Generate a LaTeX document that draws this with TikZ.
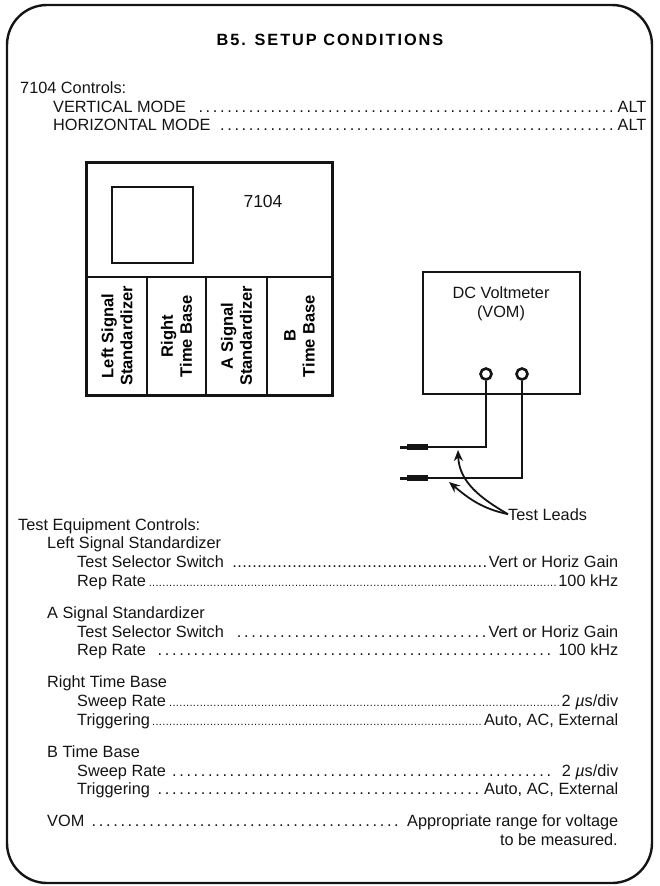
\documentclass[tikz,border=0pt]{standalone}
\usepackage{fontspec}
\setmainfont{Liberation Sans}
\newfontfamily\headfont{Liberation Sans}[LetterSpace=12]
\usepackage{xcolor}
\usepackage{tikz}
\usetikzlibrary{arrows.meta,calc,positioning}
\definecolor{inkCol}{HTML}{141414}
\newcommand{\rowfont}{\fontsize{16.3}{18.75}\selectfont}
\newcommand{\sparsedots}{\leaders\hbox to 7.2pt{\hss.\hss}\hfill}
\newcommand{\middots}{\leaders\hbox to 5pt{\hss.\hss}\hfill}
\newcommand{\densedots}{\leaders\hbox to 3.4pt{\hss{\fontsize{11}{11}\selectfont.}\hss}\hfill}
\newcommand{\usec}{{\itshape µ}s/div}
\tikzset{
  outerbox/.style={draw=inkCol, line width=2.4pt, rounded corners=40pt},
  unit/.style={draw=inkCol, line width=2.3pt, inner sep=0pt},
  plugin/.style={draw=inkCol, line width=1.4pt, inner sep=0pt, rotate=90, align=center,
                 minimum width=118pt, font=\bfseries\fontsize{16.5}{19}\selectfont},
  screen/.style={draw=inkCol, line width=1.7pt, inner sep=0pt},
  lbl/.style={font=\rowfont, inner sep=0pt, align=center, text=inkCol},
  row/.style={anchor=base west, inner sep=0pt, font=\rowfont, text=inkCol},
  title/.style={anchor=base, inner sep=0pt, font=\headfont\bfseries\fontsize{16.3}{19}\selectfont},
  jack/.style={circle, draw=inkCol, line width=2.6pt, minimum size=11pt, inner sep=0pt},
  plug/.style={fill=inkCol, minimum width=21pt, minimum height=5.5pt, inner sep=0pt},
  plugtip/.style={fill=inkCol, minimum width=7pt, minimum height=3pt, inner sep=0pt},
  wire/.style={draw=inkCol, line width=2pt},
  callout/.style={-{Stealth[length=11pt,width=9pt]}, line width=1.8pt, draw=inkCol},
}
% one control line: name, x, y, label, value (leader as option)
\newcommand{\setrow}[6][\sparsedots]{%
  \node[row] (#2) at (#3,#4) {\hbox to \dimexpr\rgt pt-#3pt\relax{#5#1#6}};}

\begin{document}
\begin{tikzpicture}[x=1pt, y=-1pt]
  \useasboundingbox (0,0) rectangle (659,886);
  \draw[outerbox] (7,5) rectangle (652,883);

  \node[title] (ttl) at (330,45) {B5. SETUP CONDITIONS};

  % mainframe settings
  \def\rgt{646}
  \node[row] (mfhead) at (20,93) {7104 Controls:};
  \setrow{vmode}{53}{112}{VERTICAL MODE }{ALT}
  \setrow{hmode}{53}{130}{HORIZONTAL MODE }{ALT}

  % 7104 mainframe with its four plug-ins
  \node[unit, minimum width=245pt, minimum height=232pt] (mf) at (209.5,279) {};
  \node[screen, minimum width=81pt, minimum height=76pt] (crt) at (152.5,225) {};
  \node[lbl, font=\fontsize{17.5}{20}\selectfont] (mfname) at (263,201) {7104};
  \foreach \n/\cx/\cw/\txt in {c1/117/60/{Left Signal\\Standardizer},
                               c2/176.5/59/{Right\\Time Base},
                               c3/236.5/61/{A Signal\\Standardizer},
                               c4/299.5/65/{B\\Time Base}}
    \node[plugin, minimum height=\cw pt] (\n) at (\cx,336) {\txt};
  \draw[inkCol, line width=2.3pt] (mf.north west) rectangle (mf.south east);

  % voltmeter and test leads
  \node[unit, minimum width=157pt, minimum height=122pt] (vom) at (501.5,333) {};
  \node[lbl] (vomname) at (501,304) {DC Voltmeter\\(VOM)};
  \node[jack] (j1) at (486,374) {};
  \node[jack] (j2) at (522,374) {};
  \node[plug] (p1) at (417.5,447) {};
  \node[plug] (p2) at (417.5,478) {};
  \node[plugtip, left=0pt of p1] (p1t) {};
  \node[plugtip, left=0pt of p2] (p2t) {};
  \draw[wire] (j1.south) |- (p1.east);
  \draw[wire] (j2.south) |- (p2.east);

  \node[lbl, anchor=base west] (leads) at (508,520) {Test Leads};
  \coordinate (h1) at (458,450);
  \coordinate (h2) at (449,482);
  \draw[callout] (leads.west) to[out=150, in=-88] (h1);
  \draw[callout] (leads.west) to[out=168, in=-40] (h2);

  % test equipment settings
  \def\rgt{618}
  \node[row] (tehead) at (18,530) {Test Equipment Controls:};
  \node[row] (lss) at (47,548.75) {Left Signal Standardizer};
  \setrow[\middots]{lsssel}{77}{567.5}{Test Selector Switch }{Vert or Horiz Gain}
  \setrow[\densedots]{lssrep}{77}{586.25}{Rep Rate}{100 kHz}

  \node[row] (ass) at (47,618.25) {A Signal Standardizer};
  \setrow{asssel}{77}{637}{Test Selector Switch }{Vert or Horiz Gain}
  \setrow{assrep}{77}{655.75}{Rep Rate }{100 kHz}

  \node[row] (rtb) at (47,687.75) {Right Time Base};
  \setrow[\densedots]{rtbswp}{77}{706.5}{Sweep Rate}{2 \usec}
  \setrow[\densedots]{rtbtrg}{77}{725.25}{Triggering}{Auto, AC, External}

  \node[row] (btb) at (47,757.25) {B Time Base};
  \setrow{btbswp}{77}{776}{Sweep Rate }{ 2 \usec}
  \setrow{btbtrg}{77}{794.75}{Triggering }{Auto, AC, External}

  \setrow{vomset}{47}{826.75}{VOM }{ Appropriate range for voltage}
  \node[row, anchor=base east] (vomset2) at (618,845.5) {to be measured.};
\end{tikzpicture}
\end{document}
